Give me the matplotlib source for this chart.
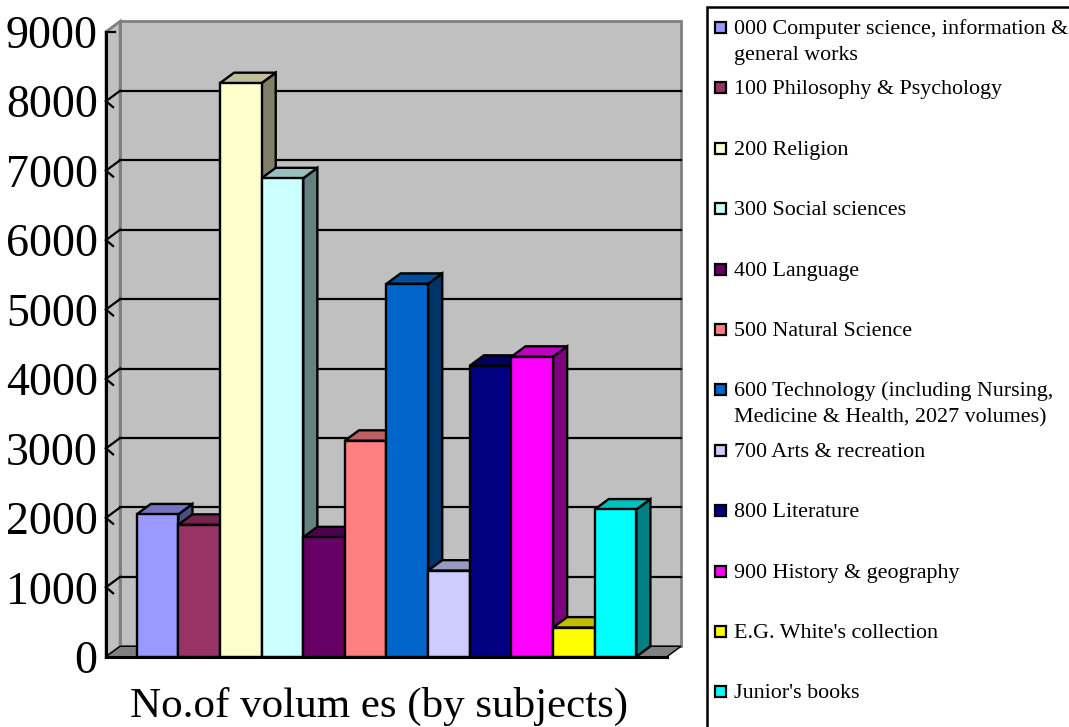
import numpy as np
import matplotlib
matplotlib.use('Agg')
import matplotlib.pyplot as plt
from matplotlib.patches import Polygon, Rectangle
from matplotlib.colors import to_rgb

# data
subjects = ['000 Computer science, information &\ngeneral works',
            '100 Philosophy & Psychology',
            '200 Religion',
            '300 Social sciences',
            '400 Language',
            '500 Natural Science',
            '600 Technology (including Nursing,\nMedicine & Health, 2027 volumes)',
            '700 Arts & recreation',
            '800 Literature',
            '900 History & geography',
            "E.G. White's collection",
            "Junior's books"]
volumes = [2050, 1900, 8260, 6890, 1720, 3110, 5370, 1240, 4190, 4320, 420, 2120]
colors = ['#9999FF', '#993366', '#FFFFCC', '#CCFFFF', '#660066', '#FF8080',
          '#0066CC', '#CCCCFF', '#000080', '#FF00FF', '#FFFF00', '#00FFFF']
y_ticks = list(range(0, 9001, 1000))
x_title = 'No.of volum es (by subjects)'

plt.rcParams['font.family'] = ['Liberation Serif', 'DejaVu Serif']

W, H = 1069, 727
DX = 0.34    # depth, in bar widths
DY = 150     # depth, in value units
x0 = -0.737
x1 = len(volumes) + 0.737


def shade(c, f):
    r, g, b = to_rgb(c)
    return (r * f, g * f, b * f)


fig = plt.figure(figsize=(W / 100, H / 100), dpi=100)
ax = fig.add_axes([106 / W, 70.3 / H, 575.1 / W, 635.4 / H])
ax.set_xlim(x0, x1 + DX)
ax.set_ylim(0, 9000 + DY)
ax.patch.set_visible(False)

# walls and floor
ax.add_patch(Rectangle((x0 + DX, DY), x1 - x0, 9000, facecolor='#C0C0C0',
                       edgecolor='#808080', lw=2, zorder=0, clip_on=False))
ax.add_patch(Polygon([(x0, 0), (x0 + DX, DY), (x0 + DX, 9000 + DY), (x0, 9000)],
                     facecolor='#C0C0C0', edgecolor='#808080', lw=2, zorder=0, clip_on=False))
ax.add_patch(Polygon([(x0, 0), (x1, 0), (x1 + DX, DY), (x0 + DX, DY)],
                     facecolor='#808080', edgecolor='black', lw=1, zorder=1, clip_on=False))

for v in y_ticks[1:-1]:
    ax.plot([x0 + DX, x1 + DX], [v + DY, v + DY], color='black', lw=1.6, zorder=2, clip_on=False)
    ax.plot([x0, x0 + DX], [v, v + DY], color='black', lw=1.6, zorder=2, clip_on=False)
    ax.plot([x0, x0 + 0.17], [v, v - 86], color='black', lw=1.6, zorder=2, clip_on=False)
ax.plot([x0, x0 + 0.22], [9000, 9000], color='black', lw=1.6, zorder=2, clip_on=False)

# bars: side, top, then front, left to right
xs = np.arange(len(volumes))
fronts = ax.bar(xs, volumes, width=1, align='edge', color=colors,
                edgecolor='black', linewidth=1.7, clip_on=False)
for i, (v, c) in enumerate(zip(volumes, colors)):
    ax.add_patch(Polygon([(i + 1, 0), (i + 1 + DX, DY), (i + 1 + DX, v + DY), (i + 1, v)],
                         facecolor=shade(c, 0.5), edgecolor='black', lw=1.7,
                         zorder=10 + 3 * i, clip_on=False))
    ax.add_patch(Polygon([(i, v), (i + 1, v), (i + 1 + DX, v + DY), (i + DX, v + DY)],
                         facecolor=shade(c, 0.75), edgecolor='black', lw=1.7,
                         zorder=11 + 3 * i, clip_on=False))
    fronts[i].set_zorder(12 + 3 * i)

# axes lines
for s in ['top', 'right']:
    ax.spines[s].set_visible(False)
ax.spines['left'].set_bounds(0, 9000)
ax.spines['bottom'].set_bounds(x0, x1)
ax.spines['left'].set_linewidth(2.2)
ax.spines['bottom'].set_linewidth(2.2)
ax.spines['left'].set_zorder(60)
ax.spines['bottom'].set_zorder(60)
ax.set_yticks(y_ticks)
ax.set_xticks([])
ax.tick_params(axis='y', length=0, pad=6, labelsize=33)

fig.text(379 / W, 10 / H, x_title, ha='center', va='baseline', fontsize=31)

# legend
fig.add_artist(Rectangle((707 / W, -0.05), 0.5, 1.05 - 7 / H, transform=fig.transFigure,
                         fill=False, edgecolor='black', lw=1.8))
for i, (lab, c) in enumerate(zip(subjects, colors)):
    base = 34 + 60.4 * i
    fig.add_artist(Rectangle((715 / W, 1 - (base - 1) / H), 11 / W, 11 / H,
                             transform=fig.transFigure, facecolor=c,
                             edgecolor='black', lw=1.6))
    for k, line in enumerate(lab.split('\n')):
        fig.text(734 / W, 1 - (base + 26 * k) / H, line, ha='left', va='baseline',
                 fontsize=15.8)

fig.savefig('out.png', dpi=100)
